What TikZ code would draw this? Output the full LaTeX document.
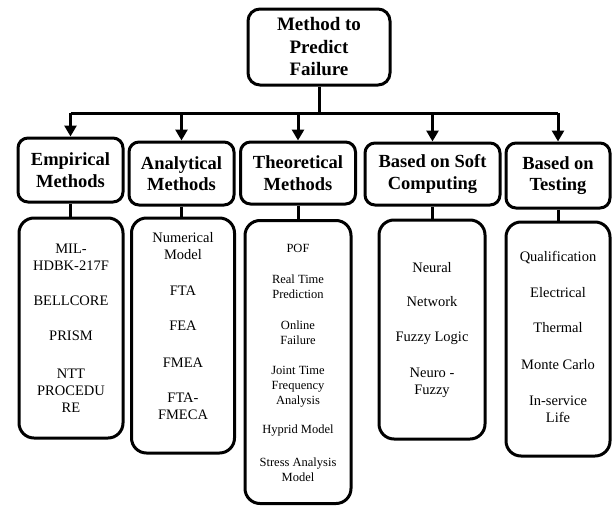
\documentclass[tikz,border=0pt]{standalone}
\usepackage{fontspec}
\setmainfont{Liberation Serif}
\usetikzlibrary{arrows.meta}
\tikzset{
  lvbox/.style={draw=black, line width=3pt, fill=white, rounded corners=#1, inner sep=0pt, align=center},
  headtxt/.style={font=\fontsize{18.5}{21.5}\selectfont\bfseries, align=center},
  itemtxt/.style={font=\fontsize{14.5}{17}\selectfont, align=center, inner sep=0pt},
  smalltxt/.style={font=\fontsize{12.5}{15}\selectfont, align=center, inner sep=0pt},
  conn/.style={line width=3pt},
  arr/.style={line width=3pt, -{Triangle[length=11pt,width=12pt]}},
}
\begin{document}
\begin{tikzpicture}[x=1pt,y=-1pt]
\useasboundingbox (0,0) rectangle (612,506);
% title
\node[lvbox=12pt, minimum width=142pt, minimum height=76pt, font=\fontsize{19}{22.5}\selectfont\bfseries] (top) at (319,47) {Method to\\Predict\\Failure};
% level 2
\node[lvbox=10pt, minimum width=105pt, minimum height=64pt, headtxt] (e2) at (70.5,170) {Empirical\\Methods};
\node[lvbox=10pt, minimum width=105pt, minimum height=63pt, headtxt] (a2) at (181.5,173.5) {Analytical\\Methods};
\node[lvbox=10pt, minimum width=115pt, minimum height=62pt, headtxt] (t2) at (298,173) {Theoretical\\Methods};
\node[lvbox=10pt, minimum width=135pt, minimum height=62pt, headtxt] (s2) at (432.5,174) {Based on Soft\\Computing};
\node[lvbox=10pt, minimum width=104pt, minimum height=65pt, headtxt] (g2) at (558,175.5) {Based on\\Testing};
% level 3 boxes
\node[lvbox=15pt, minimum width=104pt, minimum height=220pt] (e3) at (71,328) {};
\node[lvbox=15pt, minimum width=103pt, minimum height=235pt] (a3) at (183,335.5) {};
\node[lvbox=15pt, minimum width=106pt, minimum height=283pt] (t3) at (298,362) {};
\node[lvbox=15pt, minimum width=106pt, minimum height=219pt] (s3) at (432,329.5) {};
\node[lvbox=15pt, minimum width=104pt, minimum height=234pt] (g3) at (558,339) {};
% connectors
\coordinate (bus) at (319,113);
\draw[conn] (top.south) -- (bus);
\draw[conn] (e2.north |- bus) -- (g2.north |- bus);
\foreach \n in {e2,a2,t2,s2,g2}{
  \draw[arr] (\n.north |- bus) -- (\n.north);
}
\foreach \a/\b in {e2/e3,a2/a3,t2/t3,s2/s3,g2/g3}{
  \draw[conn] (\a.south) -- (\a.south |- \b.north);
}
% Empirical items
\node[itemtxt] (e3a) at (71,257.5) {MIL-\\HDBK-217F};
\node[itemtxt] (e3b) at (71,301) {BELLCORE};
\node[itemtxt] (e3c) at (71,336) {PRISM};
\node[itemtxt] (e3d) at (71,390.5) {NTT\\PROCEDU\\RE};
% Analytical items
\node[itemtxt] (a3a) at (183,246.5) {Numerical\\Model};
\node[itemtxt] (a3b) at (183,291) {FTA};
\node[itemtxt] (a3c) at (183,326) {FEA};
\node[itemtxt] (a3d) at (183,363) {FMEA};
\node[itemtxt] (a3e) at (183,406.5) {FTA-\\FMECA};
% Theoretical items
\node[smalltxt] (t3a) at (298,248) {POF};
\node[smalltxt] (t3b) at (298,287) {Real Time\\Prediction};
\node[smalltxt] (t3c) at (298,333) {Online\\Failure};
\node[smalltxt] (t3d) at (298,386.5) {Joint Time\\Frequency\\Analysis};
\node[smalltxt] (t3e) at (298,431) {Hyprid Model};
\node[smalltxt] (t3f) at (298,470) {Stress Analysis\\Model};
% Soft computing items
\node[itemtxt] (s3a) at (432,268) {Neural};
\node[itemtxt] (s3b) at (432,302) {Network};
\node[itemtxt] (s3c) at (432,338) {Fuzzy Logic};
\node[itemtxt] (s3d) at (432,383) {Neuro -\\Fuzzy};
% Testing items
\node[itemtxt] (g3a) at (558,258) {Qualification};
\node[itemtxt] (g3b) at (558,293) {Electrical};
\node[itemtxt] (g3c) at (558,328) {Thermal};
\node[itemtxt] (g3d) at (558,365) {Monte Carlo};
\node[itemtxt] (g3e) at (558,409.5) {In-service\\Life};
\end{tikzpicture}
\end{document}
